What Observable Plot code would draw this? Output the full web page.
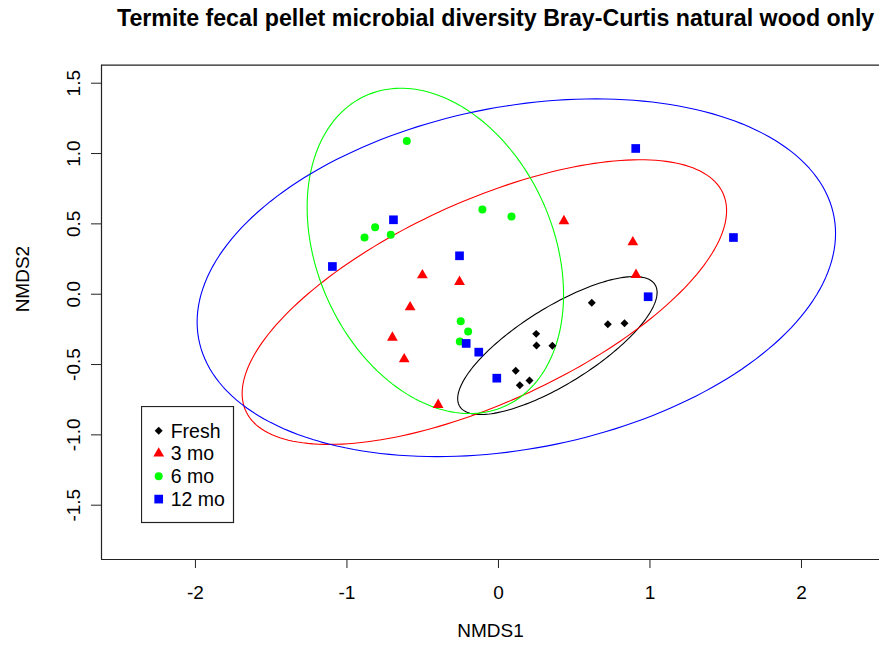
<!DOCTYPE html>
<html><head><meta charset="utf-8">
<script src="https://cdn.jsdelivr.net/npm/d3@7"></script>
<script src="https://cdn.jsdelivr.net/npm/@observablehq/plot@0.6"></script>
<style>
body{margin:0;background:#fff;font-family:"Liberation Sans",Arial,sans-serif;color:#000;}
#wrap{position:relative;width:879px;height:652px;overflow:hidden;background:#fff;}
#title{height:40px;line-height:36px;font-weight:bold;font-size:23.2px;padding-left:117px;white-space:nowrap;}
#legend{position:absolute;left:141px;top:406px;}
</style></head><body>
<div id="wrap"><div id="title">Termite fecal pellet microbial diversity Bray-Curtis natural wood only</div><div id="chart"></div><div id="legend"></div></div>
<script>
// ---- data ----
const groups = ["Fresh", "3 mo", "6 mo", "12 mo"];
const freshX = [0.616, 0.722, 0.832, 0.249, 0.251, 0.356, 0.114, 0.205, 0.141];
const freshY = [-0.061, -0.213, -0.206, -0.282, -0.365, -0.367, -0.545, -0.613, -0.647];
const mo3X = [0.432, 0.887, 0.908, -0.502, -0.257, -0.583, -0.700, -0.622, -0.398];
const mo3Y = [0.520, 0.370, 0.138, 0.135, 0.088, -0.092, -0.308, -0.462, -0.786];
const mo6X = [-0.605, -0.106, 0.086, -0.814, -0.884, -0.711, -0.249, -0.200, -0.255];
const mo6Y = [1.090, 0.602, 0.552, 0.476, 0.403, 0.422, -0.192, -0.265, -0.336];
const mo12X = [0.906, 1.551, 0.988, -0.693, -1.096, -0.257, -0.213, -0.130, -0.011];
const mo12Y = [1.036, 0.403, -0.018, 0.529, 0.197, 0.273, -0.350, -0.412, -0.597];
// ellipse parameters per group (centre and covariance-like matrix, NMDS units)
const ellCX = [0.389, -0.093, -0.4165, 0.118];
const ellCY = [-0.365, -0.056, 0.3077, 0.117];
const ellSxx = [0.4331, 2.556, 0.716, 4.439];
const ellSyy = [0.2405, 1.024, 1.337, 1.617];
const ellSxy = [0.2482, 1.039, -0.262, 0.664];
const xTicks = [-2, -1, 0, 1, 2];
const yTicks = [-1.5, -1.0, -0.5, 0.0, 0.5, 1.0, 1.5];
const xDomain = [-2.62, 2.515];
const yDomain = [-1.886, 1.628];

// ---- styles ----
const colors = ["#000000", "#FF0000", "#00FF00", "#0000FF"];
const symbols = ["diamond2", "triangle", "circle", "square"];
const sizes = [3.6, 4.0, 4.0, 4.9];

const xs = [freshX, mo3X, mo6X, mo12X];
const ys = [freshY, mo3Y, mo6Y, mo12Y];
const points = groups.map((g, i) => xs[i].map((x, j) => ({group: g, x, y: ys[i][j]})));

const ellipses = groups.map((g, i) => {
  const a = ellSxx[i], d = ellSyy[i], b = ellSxy[i];
  const l11 = Math.sqrt(a), l21 = b / l11, l22 = Math.sqrt(d - l21 * l21);
  return d3.range(0, 201).map(k => {
    const t = 2 * Math.PI * k / 200;
    return {group: g, x: ellCX[i] + l11 * Math.cos(t), y: ellCY[i] + l21 * Math.cos(t) + l22 * Math.sin(t)};
  });
});

const chart = Plot.plot({
  width: 879, height: 612,
  marginLeft: 101, marginRight: 0, marginTop: 24.7, marginBottom: 93,
  x: {domain: xDomain},
  y: {domain: yDomain},
  style: {fontFamily: "'Liberation Sans', Arial, sans-serif", fontSize: "19px", color: "#000", background: "#fff", overflow: "hidden"},
  marks: [
    Plot.ruleY(yDomain, {stroke: "#222", strokeWidth: 1.2}),
    Plot.ruleX([xDomain[0]], {stroke: "#222", strokeWidth: 1.2}),
    Plot.axisX(xTicks, {tickSize: 9, tickPadding: 17, fontSize: 19, label: null, tickFormat: d => String(d), stroke: "#222"}),
    Plot.axisY(yTicks, {tickSize: 10, tickPadding: 12, fontSize: 19, tickRotate: -90, label: null, tickFormat: d => d.toFixed(1), stroke: "#222"}),
    Plot.text(["NMDS1"], {frameAnchor: "bottom", dy: 77, fontSize: 19}),
    Plot.text(["NMDS2"], {frameAnchor: "left", dx: -79, rotate: -90, fontSize: 19}),
    ...ellipses.map((e, i) => Plot.line(e, {x: "x", y: "y", stroke: colors[i], strokeWidth: 1.1, curve: "linear-closed"})),
    ...points.map((p, i) => Plot.dot(p, {x: "x", y: "y", fill: colors[i], stroke: "none", symbol: symbols[i], r: sizes[i]}))
  ]
});
document.getElementById("chart").appendChild(chart);

// ---- legend ----
const lg = d3.select("#legend").append("svg").attr("width", 94).attr("height", 118);
lg.append("rect").attr("x", 0.5).attr("y", 0.5).attr("width", 92).attr("height", 116)
  .attr("fill", "#fff").attr("stroke", "#222").attr("stroke-width", 1.2);
const d3sym = {diamond2: d3.symbolDiamond2, triangle: d3.symbolTriangle, circle: d3.symbolCircle, square: d3.symbolSquare};
groups.forEach((g, i) => {
  const cy = 24.7 + i * 22.8;
  lg.append("path").attr("transform", `translate(17.7,${cy})`)
    .attr("d", d3.symbol(d3sym[symbols[i]], Math.PI * sizes[i] * sizes[i])()).attr("fill", colors[i]);
  lg.append("text").attr("x", 29.7).attr("y", cy).attr("dy", "0.35em")
    .attr("font-size", 19.5).attr("font-family", "'Liberation Sans', Arial, sans-serif").text(g);
});
</script>
</body></html>
